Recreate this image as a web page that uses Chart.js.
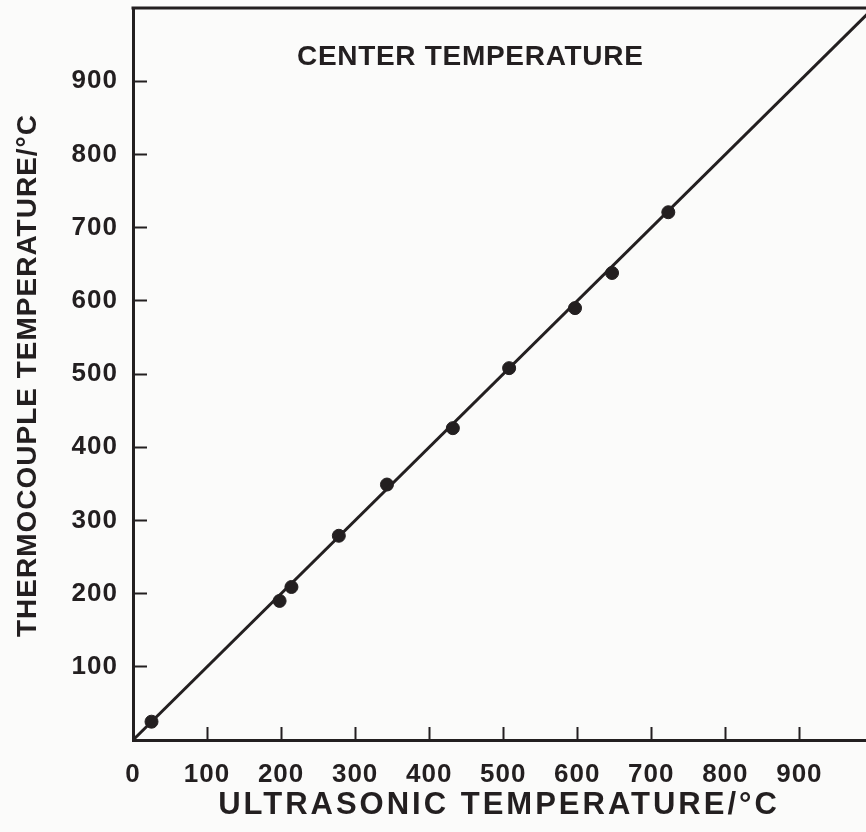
<!DOCTYPE html>
<html>
<head>
<meta charset="utf-8">
<script src="https://cdn.jsdelivr.net/npm/chart.js@4/dist/chart.umd.min.js"></script>
<style>
  html, body { margin: 0; padding: 0; background: #fbfbfa; overflow: hidden; }
  canvas { display: block; }
</style>
</head>
<body>
<canvas id="tempChart" width="866" height="832"></canvas>
<script>
// measured points (ultrasonic vs thermocouple, deg C)
const ultrasonic = [25, 198, 214, 278, 343, 432, 508, 597, 647, 723];
const thermocouple = [25, 190, 209, 279, 349, 426, 508, 590, 638, 721];
// reference line y = x
const lineEnds = [0, 1000];
const xTicks = [0, 100, 200, 300, 400, 500, 600, 700, 800, 900];
const yTicks = [100, 200, 300, 400, 500, 600, 700, 800, 900];

const ink = '#231f20';
const fontFam = '"Liberation Sans", Arial, Helvetica, sans-serif';

function spacedText(c, text, x, y, px, spacing) {
    c.font = 'bold ' + px + 'px ' + fontFam;
    c.letterSpacing = spacing + 'px';
    c.textAlign = 'center';
    c.textBaseline = 'middle';
    c.fillText(text, x + spacing / 2, y);
}

// top frame line, plot title and axis titles
const framePlugin = {
    id: 'frame',
    beforeDraw(chart) {
        chart.ctx.letterSpacing = '1px';
    },
    afterDraw(chart) {
        const c = chart.ctx;
        const a = chart.chartArea;
        c.save();
        c.strokeStyle = ink;
        c.lineWidth = 3;
        c.beginPath();
        c.moveTo(a.left - 1.5, a.top);
        c.lineTo(a.right, a.top);
        c.stroke();
        c.fillStyle = ink;
        spacedText(c, 'CENTER TEMPERATURE', chart.scales.x.getPixelForValue(455), chart.scales.y.getPixelForValue(933), 28, 0.7);
        spacedText(c, 'ULTRASONIC TEMPERATURE/°C', (a.left + a.right) / 2 - 2, 805, 31, 3);
        c.translate(28, (a.top + a.bottom) / 2 + 2);
        c.rotate(-Math.PI / 2);
        spacedText(c, 'THERMOCOUPLE TEMPERATURE/°C', 0, 0, 28, 1);
        c.restore();
        c.letterSpacing = '0px';
    }
};

const ctx = document.getElementById('tempChart');
new Chart(ctx, {
    data: {
        datasets: [
            {
                type: 'line',
                data: lineEnds.map(v => ({ x: v, y: v })),
                borderColor: ink,
                borderWidth: 3,
                pointRadius: 0
            },
            {
                type: 'scatter',
                data: ultrasonic.map((u, i) => ({ x: u, y: thermocouple[i] })),
                backgroundColor: ink,
                borderColor: ink,
                pointRadius: 6.5
            }
        ]
    },
    options: {
        responsive: false,
        animation: false,
        devicePixelRatio: 1,
        layout: { padding: { top: 8, right: 0, left: 0, bottom: 0 }, autoPadding: false },
        plugins: { legend: { display: false }, tooltip: { enabled: false } },
        scales: {
            x: {
                type: 'linear',
                min: 0,
                max: 990,
                afterBuildTicks: s => { s.ticks = xTicks.map(v => ({ value: v })); },
                afterFit: s => { s.height = 92; s.paddingLeft = 0; s.paddingRight = 0; },
                grid: { drawOnChartArea: false, tickLength: -13, tickWidth: 2, color: ink },
                border: { color: ink, width: 3 },
                ticks: {
                    color: ink,
                    padding: 32,
                    maxRotation: 0,
                    font: { family: fontFam, size: 26, weight: 'bold' }
                }
            },
            y: {
                type: 'linear',
                min: 0,
                max: 1000,
                afterBuildTicks: s => { s.ticks = yTicks.map(v => ({ value: v })); },
                afterFit: s => { s.width = 133; s.paddingTop = 0; s.paddingBottom = 0; },
                grid: { drawOnChartArea: false, tickLength: -14, tickWidth: 2, color: ink },
                border: { color: ink, width: 3 },
                ticks: {
                    color: ink,
                    padding: 29,
                    font: { family: fontFam, size: 26, weight: 'bold' }
                }
            }
        }
    },
    plugins: [framePlugin]
});
</script>
</body>
</html>
